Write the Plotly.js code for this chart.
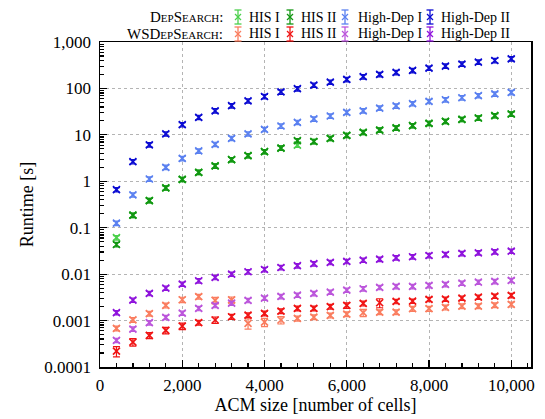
<!DOCTYPE html>
<html>
<head>
<meta charset="utf-8">
<script src="https://cdn.plot.ly/plotly-3.0.1.min.js"></script>
<style>html,body{margin:0;padding:0;background:#fff;}#chart{width:545px;height:419px;}</style>
</head>
<body>
<div id="chart"></div>
<script>
// ACM size [number of cells]
var acmSize = [400, 800, 1200, 1600, 2000, 2400, 2800, 3200, 3600, 4000, 4400, 4800, 5200,
               5600, 6000, 6400, 6800, 7200, 7600, 8000, 8400, 8800, 9200, 9600, 10000];

// DepSearch runtimes [s]
var depHisI = [0.061, 0.186, 0.385, 0.72, 1.10, 1.56, 2.14, 2.93, 3.57, 4.35, 5.2, 6.0, 7.2,
               8.4, 9.75, 11.3, 12.7, 14.1, 15.8, 17.7, 19.5, 21.5, 23.1, 25.9, 28.1];
var depHisII = [0.0435, 0.186, 0.385, 0.72, 1.10, 1.56, 2.14, 2.93, 3.57, 4.35, 5.2, 7.5, 7.2,
                8.4, 9.75, 11.3, 12.7, 14.1, 15.8, 17.7, 19.5, 21.5, 23.1, 25.9, 28.1];
var depHighDepI = [0.125, 0.51, 1.12, 2.0, 3.1, 4.5, 6.25, 8.4, 10.5, 13.1, 15.5, 18.6, 22,
                   25.5, 30.5, 33, 37.8, 41.9, 47, 52.5, 57, 63, 70, 76, 82];
var depHighDepII = [0.66, 2.65, 6.1, 10.5, 16.6, 23.8, 33, 42.5, 54, 67, 84, 98.6, 118,
                    137, 156, 179, 200, 221, 244, 274, 303, 335, 370, 400, 435];

// WSDepSearch runtimes [s]
var wsHisI = [0.00068, 0.00104, 0.00141, 0.00212, 0.00281, 0.00327, 0.00272, 0.0028, 0.00087,
              0.00093, 0.00103, 0.00111, 0.00119, 0.00129, 0.00138, 0.00148, 0.00152, 0.00152,
              0.0018, 0.0018, 0.00192, 0.00205, 0.00205, 0.00215, 0.00223];
var wsHisII = [0.00022, 0.000345, 0.00048, 0.000615, 0.00076, 0.0009, 0.00103, 0.00121, 0.00131,
               0.00143, 0.0016, 0.00183, 0.00183, 0.00199, 0.00212, 0.00234, 0.00242, 0.00259,
               0.00262, 0.00286, 0.0029, 0.00305, 0.0032, 0.00336, 0.00348];
var wsHighDepI = [0.000375, 0.000656, 0.0009, 0.00117, 0.00145, 0.00183, 0.00212, 0.00238, 0.00272,
                  0.00305, 0.00331, 0.00353, 0.00384, 0.0041, 0.00453, 0.00485, 0.00518, 0.00543,
                  0.00543, 0.00571, 0.0060, 0.0064, 0.00673, 0.00696, 0.00733];
var wsHighDepII = [0.00148, 0.00276, 0.00385, 0.0050, 0.0061, 0.0072, 0.0085, 0.0100, 0.01127,
                   0.0126, 0.0139, 0.0152, 0.0168, 0.0179, 0.0188, 0.0200, 0.0210, 0.0225,
                   0.0237, 0.0252, 0.0265, 0.0279, 0.0288, 0.0303, 0.0313];

// error bars, percent of value
var wsHisIErrPct = [12, 12, 12, 12, 13, 12, 16, 15, 25, 20, 18, 12, 12, 12, 12, 18, 12, 12, 12, 12, 12, 12, 12, 12, 12];
var wsHisIIErrPct = [25, 18, 15, 16, 16, 12, 16, 12, 12, 12, 12, 12, 12, 12, 14, 12, 22, 11, 11, 11, 11, 11, 11, 11, 11];
var defaultErrPct = 11;

// legend labels
var groupLabels = ['DepSearch:', 'WSDepSearch:'];
var seriesLabels = ['HIS I', 'HIS II', 'High-Dep I', 'High-Dep II'];

var yTickVals = [0.0001, 0.001, 0.01, 0.1, 1, 10, 100, 1000];
var yTickText = ['0.0001', '0.001', '0.01', '0.1', '1', '10', '100', '1,000'];
var xTickVals = [0, 2000, 4000, 6000, 8000, 10000];
var xTickText = ['0', '2,000', '4,000', '6,000', '8,000', '10,000'];

var colors = [
  ['#4cd04c', '#129612', '#5a80f0', '#0a0ad2'],
  ['#fa7d5f', '#f01414', '#bb55db', '#8e12dc']
];

var seriesData = [
  [depHisI, depHisII, depHighDepI, depHighDepII],
  [wsHisI, wsHisII, wsHighDepI, wsHighDepII]
];
var errPcts = [
  [null, null, null, null],
  [wsHisIErrPct, wsHisIIErrPct, null, null]
];

var FONT = 'Liberation Serif, Times New Roman, serif';
var traces = [];
for (var g = 0; g < 2; g++) {
  for (var s = 0; s < 4; s++) {
    var vals = seriesData[g][s];
    var pct = errPcts[g][s];
    var errs = vals.map(function (v, i) { return v * (pct ? pct[i] : defaultErrPct) / 100; });
    traces.push({
      type: 'scatter', mode: 'markers',
      name: groupLabels[g] + ' ' + seriesLabels[s],
      x: acmSize, y: vals,
      marker: {symbol: 'x-thin', size: 7, color: colors[g][s], line: {color: colors[g][s], width: 1.7}},
      error_y: {type: 'data', array: errs, visible: true, color: colors[g][s], thickness: 1.2, width: 3.5},
      showlegend: false, hoverinfo: 'x+y+name'
    });
  }
}

// manual legend layout (pixel positions)
var ML = 100, MT = 42, PW = 431, PH = 325;
function px2x(p) { return (p - ML) / PW; }
function py2y(p) { return 1 + (MT - p) / PH; }
var rowY = [17, 34];
var symX = [238, 290, 345, 430];
var txtX = [247, 299, 356, 439];

var annotations = [], shapes = [];
for (var g2 = 0; g2 < 2; g2++) {
  annotations.push({
    xref: 'paper', yref: 'paper', x: px2x(225), y: py2y(rowY[g2]),
    xanchor: 'right', yanchor: 'middle', showarrow: false,
    text: groupLabels[g2],
    font: {family: FONT, size: 15, color: '#000', variant: 'small-caps'}
  });
  for (var s2 = 0; s2 < 4; s2++) {
    annotations.push({
      xref: 'paper', yref: 'paper', x: px2x(txtX[s2]), y: py2y(rowY[g2]),
      xanchor: 'left', yanchor: 'middle', showarrow: false,
      text: seriesLabels[s2],
      font: {family: FONT, size: 14, color: '#000'}
    });
    var c = colors[g2][s2];
    var ax = px2x(symX[s2]), ay = py2y(rowY[g2]);
    var segs = [[-3, -3, 3, 3], [-3, 3, 3, -3], [0, -7, 0, 7], [-3.5, 7, 3.5, 7], [-3.5, -7, 3.5, -7]];
    segs.forEach(function (sg) {
      shapes.push({
        type: 'line', xref: 'paper', yref: 'paper',
        xsizemode: 'pixel', ysizemode: 'pixel', xanchor: ax, yanchor: ay,
        x0: sg[0], y0: sg[1], x1: sg[2], y1: sg[3],
        line: {color: c, width: 1.3}
      });
    });
  }
}

// minor ticks for log axis
var yMinor = [];
for (var d = -4; d < 3; d++) { for (var k = 2; k <= 9; k++) { yMinor.push(k * Math.pow(10, d)); } }

var layout = {
  width: 545, height: 419,
  margin: {l: ML, r: 545 - ML - PW, t: MT, b: 419 - MT - PH},
  paper_bgcolor: '#fff', plot_bgcolor: '#fff',
  font: {family: FONT, size: 17, color: '#000'},
  showlegend: false,
  xaxis: {
    range: [0, 10480], tickmode: 'array', tickvals: xTickVals, ticktext: xTickText,
    ticks: 'inside', ticklen: 7, tickwidth: 1.2, tickcolor: '#000',
    minor: {dtick: 400, tick0: 0, ticks: 'inside', ticklen: 4, tickcolor: '#000', showgrid: false},
    showgrid: true, gridcolor: '#b4b4b4', griddash: 'dot', gridwidth: 1,
    showline: true, linecolor: '#000', linewidth: 1.5, mirror: true, zeroline: false,
    tickfont: {family: FONT, size: 17}, ticklabelstandoff: 2,
    title: {text: 'ACM size [number of cells]', font: {family: FONT, size: 18}, standoff: 4}
  },
  yaxis: {
    type: 'log', range: [-4, 3], tickmode: 'array', tickvals: yTickVals, ticktext: yTickText,
    ticks: 'inside', ticklen: 7, tickwidth: 1.2, tickcolor: '#000',
    minor: {tickmode: 'array', tickvals: yMinor, ticks: 'inside', ticklen: 4, tickcolor: '#000', showgrid: false},
    showgrid: true, gridcolor: '#b4b4b4', griddash: 'dot', gridwidth: 1,
    showline: true, linecolor: '#000', linewidth: 1.5, mirror: true, zeroline: false,
    tickfont: {family: FONT, size: 17}, ticklabelstandoff: 4,
    title: {text: 'Runtime [s]', font: {family: FONT, size: 18}, standoff: 6}
  },
  annotations: annotations,
  shapes: shapes
};

Plotly.newPlot('chart', traces, layout, {displayModeBar: false, staticPlot: true});
</script>
</body>
</html>
